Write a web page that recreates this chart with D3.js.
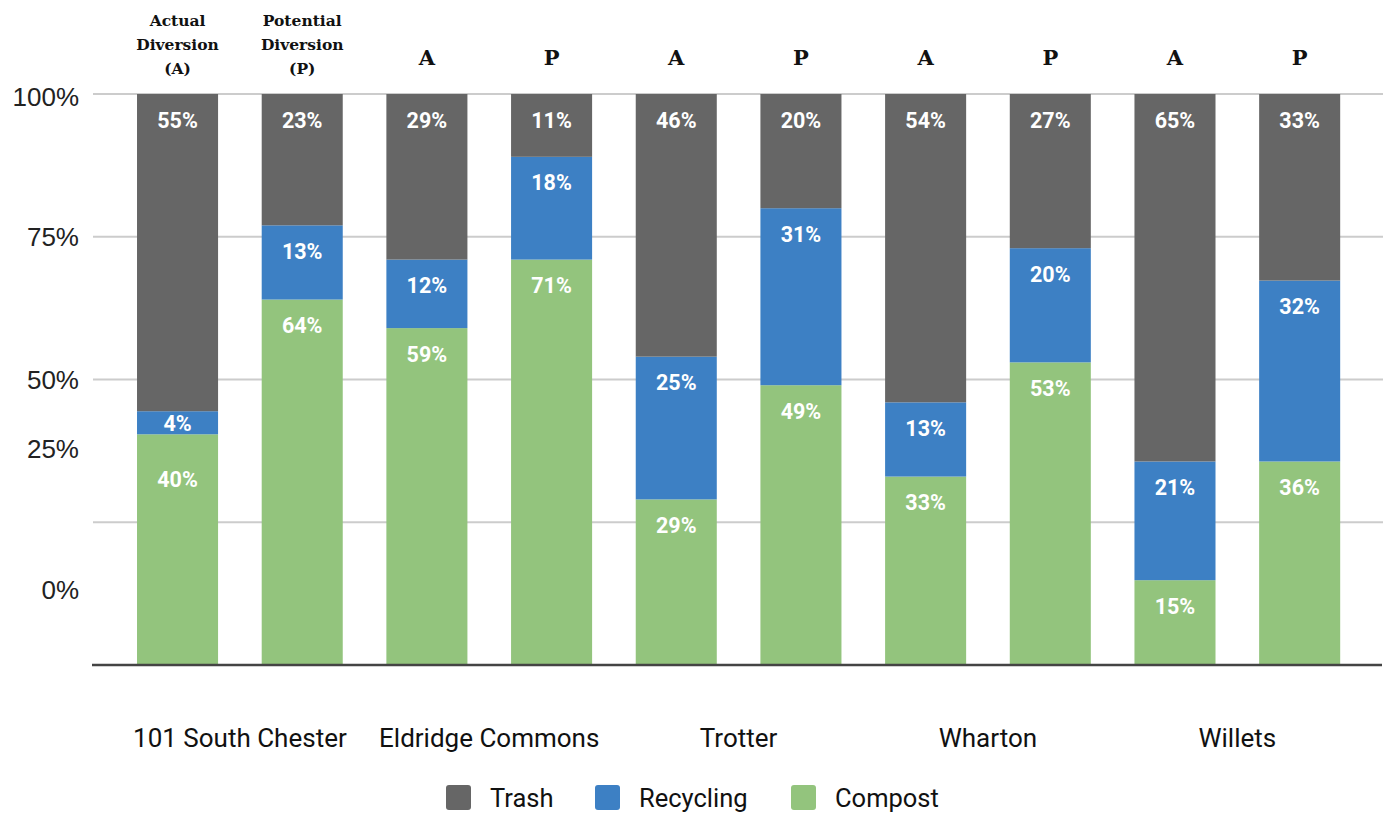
<!DOCTYPE html>
<html>
<head>
<meta charset="utf-8">
<script src="https://cdn.jsdelivr.net/npm/d3@7"></script>
<style>
  html, body { margin: 0; padding: 0; background: #fff; }
  svg { display: block; }
</style>
</head>
<body>
<svg id="chart" width="1383" height="814"></svg>
<script>
// Waste stream composition per building: actual (A) vs potential (P) diversion
const bars = ["101 South Chester A", "101 South Chester P", "Eldridge Commons A", "Eldridge Commons P",
              "Trotter A", "Trotter P", "Wharton A", "Wharton P", "Willets A", "Willets P"];
const buildings = ["101 South Chester", "Eldridge Commons", "Trotter", "Wharton", "Willets"];
const headers = [["Actual", "Diversion", "(A)"], ["Potential", "Diversion", "(P)"],
                 ["A"], ["P"], ["A"], ["P"], ["A"], ["P"], ["A"], ["P"]];
const compost   = [40, 64, 59, 71, 29, 49, 33, 53, 15, 36];
const recycling = [4, 13, 12, 18, 25, 31, 13, 20, 21, 32];
const trash     = [55, 23, 29, 11, 46, 20, 54, 27, 65, 33];
const seriesNames = ["Compost", "Recycling", "Trash"];
const legendOrder = ["Trash", "Recycling", "Compost"];
const yTicks = [0, 25, 50, 75, 100];
const yTickLabels = ["0%", "25%", "50%", "75%", "100%"];
// where each axis label sits along the value scale
const yTickLabelAt = [13.2, 37.8, 50, 75, 99.5];

const colors = { Trash: "#666666", Recycling: "#3d80c4", Compost: "#93c47d" };

const svg = d3.select("#chart");
const W = 1383, H = 814;

const rows = bars.map((b, i) => ({ bar: b, Compost: compost[i], Recycling: recycling[i], Trash: trash[i] }));
const stacked = d3.stack().keys(seriesNames).offset(d3.stackOffsetExpand)(rows);

const x = d3.scaleBand().domain(bars).range([115.2, 1362]).paddingInner(0.35).paddingOuter(0.175);
const y = d3.scaleLinear().domain([0, 1]).range([665, 94]);
const yPct = d3.scaleLinear().domain([0, 100]).range([665, 94]);

// gridlines
svg.append("g").selectAll("line").data(yTicks.filter(t => t > 0)).join("line")
  .attr("x1", 93).attr("x2", W)
  .attr("y1", d => yPct(d)).attr("y2", d => yPct(d))
  .attr("stroke", "#cccccc").attr("stroke-width", 2);

// y labels
svg.append("g").selectAll("text").data(yTickLabels).join("text")
  .attr("x", 79).attr("y", (d, i) => yPct(yTickLabelAt[i]))
  .attr("dy", "0.35em")
  .attr("text-anchor", "end")
  .attr("font-family", "Liberation Sans, Arial, sans-serif")
  .attr("font-size", 26).attr("fill", "#222")
  .text(d => d);

// stacked bars
const gSeries = svg.append("g").selectAll("g").data(stacked).join("g")
  .attr("fill", d => colors[d.key]);
gSeries.selectAll("rect").data(d => d).join("rect")
  .attr("x", d => x(d.data.bar))
  .attr("width", x.bandwidth())
  .attr("y", d => y(d[1]))
  .attr("height", d => y(d[0]) - y(d[1]));

// baseline
svg.append("line").attr("x1", 92).attr("x2", 1382).attr("y1", 665).attr("y2", 665)
  .attr("stroke", "#444").attr("stroke-width", 2.5);

// value labels, top-down within each bar
const labelG = svg.append("g")
  .attr("font-family", "Roboto, 'Open Sans', sans-serif")
  .attr("font-weight", 700).attr("font-size", 21.5).attr("fill", "#fff")
  .attr("text-anchor", "middle");
bars.forEach((b, i) => {
  let prevY = -Infinity;
  ["Trash", "Recycling", "Compost"].forEach(key => {
    const s = stacked.find(t => t.key === key)[i];
    const top = y(s[1]), bot = y(s[0]);
    let ly = (bot - top) < 50 ? (top + bot) / 2 + 1 : top + 26;
    ly = Math.max(ly, prevY + 56);
    prevY = ly;
    labelG.append("text")
      .attr("x", x(b) + x.bandwidth() / 2).attr("y", ly).attr("dy", "0.35em")
      .text(rows[i][key] + "%");
  });
});

// column headers
const hG = svg.append("g")
  .attr("font-family", "'DejaVu Serif', 'Liberation Serif', serif")
  .attr("font-weight", 700).attr("fill", "#111").attr("text-anchor", "middle");
headers.forEach((lines, i) => {
  const cx = x(bars[i]) + x.bandwidth() / 2;
  if (lines.length === 1) {
    hG.append("text").attr("x", cx).attr("y", 58).attr("dy", "0.35em")
      .attr("font-size", 21).text(lines[0]);
  } else {
    lines.forEach((t, j) => {
      hG.append("text").attr("x", cx).attr("y", 21 + j * 24).attr("dy", "0.35em")
        .attr("font-size", 15.5).text(t);
    });
  }
});

// building labels, centered under each A/P pair
svg.append("g").selectAll("text").data(buildings).join("text")
  .attr("x", (d, i) => (x(bars[2 * i]) + x(bars[2 * i + 1]) + x.bandwidth()) / 2)
  .attr("y", 738).attr("dy", "0.35em").attr("text-anchor", "middle")
  .attr("font-family", "Roboto, sans-serif").attr("font-size", 26).attr("fill", "#111")
  .text(d => d);

// legend
const legend = svg.append("g").attr("font-family", "Roboto, sans-serif")
  .attr("font-size", 25.5).attr("fill", "#111");
const legendX = [446, 595, 791];
legendOrder.forEach((k, i) => {
  const g = legend.append("g").attr("transform", `translate(${legendX[i]},785)`);
  g.append("rect").attr("width", 25).attr("height", 25).attr("rx", 3).attr("fill", colors[k]);
  g.append("text").attr("x", 44).attr("y", 13).attr("dy", "0.35em").text(k);
});
</script>
</body>
</html>
